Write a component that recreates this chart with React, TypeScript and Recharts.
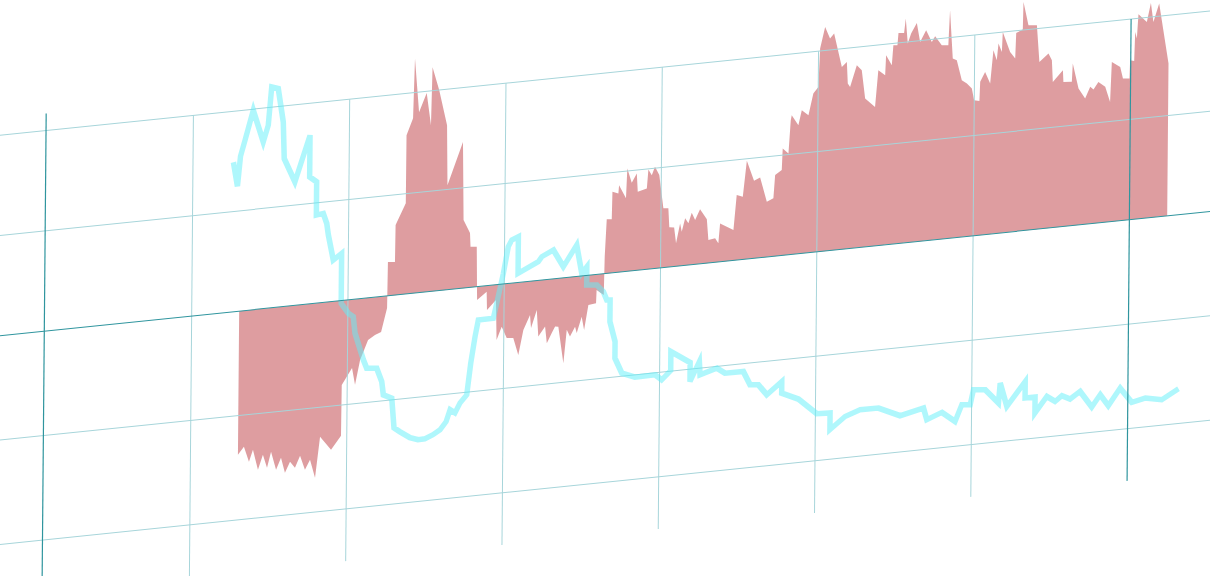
import { ComposedChart, Area, Line, XAxis, YAxis, ReferenceLine } from "recharts"

// red area: x position and value (value 0 = dark axis line)
const areaU = [
  130.4, 134.2, 137.5, 140.0, 143.3, 146.4, 149.1, 151.6, 154.9, 158.0, 160.6, 163.8, 167.0, 170.2, 173.4, 176.6,
  179.9, 182.9, 190.0, 196.3, 196.5, 203.0, 205.0, 208.1, 213.1, 217.5, 221.4, 225.1,
  225.4, 229.9, 230.1, 236.5, 236.6, 240.7, 241.6, 244.5, 249.3, 252.2, 252.9, 257.3, 262.5, 263.1, 272.8, 273.6,
  277.8, 278.2, 282.2,
  282.7, 288.8, 289.1, 294.8, 295.4, 298.6, 301.9, 306.1, 309.4, 312.5, 316.7, 317.4, 321.0, 322.1, 326.4, 327.6,
  330.7, 332.8, 334.9, 338.3, 340.3, 342.4, 345.6, 346.7, 349.8, 351.4, 354.0, 358.9, 359.2, 363.8,
  364.2, 365.3, 368.5, 368.8, 372.6, 373.0, 377.5, 378.2, 381.1, 384.3, 385.0, 390.8, 391.7, 393.9, 395.9, 398.7,
  401.5, 404.7, 405.4, 408.5, 409.8, 412.3, 413.4, 415.5, 417.6, 419.7, 421.9, 425.0, 429.4, 430.5, 434.8, 436.9,
  437.9, 446.5, 448.4, 452.3, 454.7, 459.4, 463.3, 467.7, 471.9, 472.9, 477.1, 477.6, 481.3, 482.6, 483.2, 487.5,
  489.6, 493.9, 496.9, 500.1, 501.0, 504.1, 507.3, 509.9, 515.0, 518.2, 518.9, 520.4, 524.6, 527.8, 530.1, 536.5,
  538.4, 542.8, 543.3, 547.0, 547.9, 550.5, 551.1, 554.7, 555.7, 557.1, 559.2, 562.8, 565.0, 568.8, 572.5, 574.6,
  578.9, 583.1, 584.0, 586.0, 588.6, 590.8, 591.9, 595.2, 598.4, 599.9, 603.3, 603.7, 606.8, 610.1, 612.0, 614.2,
  615.2, 617.4, 617.9, 622.7, 626.0, 626.5, 630.7, 631.0, 634.3, 639.7, 641.5, 647.3, 649.5, 650.2, 656.6, 657.0,
  662.4, 662.9, 666.7, 671.0, 674.2, 676.3, 679.4, 683.8, 687.0, 687.9, 693.3, 695.1, 699.3, 699.6, 702.2, 702.7,
  703.8, 704.7, 710.1, 712.6, 714.3, 717.9, 724.2,
]
const areaV = [
  -140.3, -133.1, -148.2, -136.9, -156.9, -142.8, -155.9, -140.7, -158.8, -147.5, -162.6, -152.3, -158.7, -147.5, -161.6, -152.4,
  -170.5, -131.0, -144.7, -132.1, -82.4, -66.8, -83.7, -59.8, -41.1, -36.9, -34.6, -11.7,
  33.0, 32.3, 68.4, 88.8, 155.2, 171.1, 229.4, 176.3, 194.4, 162.4, 218.9, 195.8, 160.8, 102.2, 142.9, 66.5,
  53.1, 39.7, 39.1,
  -13.0, -5.8, -23.7, -14.9, -54.0, -41.5, -53.0, -53.7, -70.8, -46.9, -32.9, -45.7, -28.7, -54.9, -45.8, -62.2,
  -52.7, -46.8, -47.2, -83.4, -51.2, -58.1, -48.9, -55.2, -39.8, -53.0, -29.0, -28.1, -15.2, -20.8,
  16.5, 52.8, 52.3, 79.2, 77.0, 85.0, 71.4, 100.5, 86.0, 94.7, 76.6, 79.0, 97.4, 91.5, 99.3, 90.8,
  57.9, 57.4, 38.7, 38.2, 22.4, 41.5, 33.2, 45.9, 40.7, 50.7, 43.3, 53.2, 42.8, 22.4, 23.4, 18.2,
  37.5, 29.7, 63.5, 61.2, 96.0, 75.7, 78.4, 53.9, 56.6, 79.2, 83.4, 104.5, 99.0, 131.3, 136.0, 125.6,
  139.9, 134.4, 155.1, 161.0, 198.3, 218.9, 207.1, 211.6, 178.2, 182.6, 161.4, 157.8, 178.3, 172.9, 145.0, 135.8,
  171.3, 165.7, 185.2, 174.8, 194.2, 193.8, 205.7, 205.1, 219.0, 194.4, 203.8, 213.6, 194.7, 205.5, 193.6, 198.8,
  189.3, 188.7, 222.7, 175.3, 173.2, 159.9, 153.2, 149.4, 144.1, 132.4, 131.2, 149.7, 158.9, 147.1, 179.3, 169.2,
  185.3, 176.8, 196.2, 175.9, 169.0, 193.9, 196.5, 223.4, 200.2, 199.3, 163.2, 170.5, 163.7, 142.4, 152.8, 141.3,
  140.5, 158.3, 133.4, 122.9, 133.8, 130.9, 137.8, 132.3, 117.1, 156.0, 150.3, 138.7, 138.0, 155.8, 154.7, 182.9,
  176.3, 199.9, 191.5, 209.7, 190.9, 208.3, 148.8,
]

// cyan line
const lineU = [
  125.9, 128.6, 130.4, 133.2, 138.3, 144.9, 148.0, 150.0, 154.2, 157.6, 158.4, 165.4, 174.8, 174.8, 179.3, 179.3,
  183.7, 186.0, 187.1, 190.4, 195.7, 195.7, 200.3, 203.5, 204.7, 210.2, 212.4, 218.8, 222.1, 223.2, 228.6, 230.2,
  234.1, 240.5, 245.7, 250.1, 255.2, 259.7, 263.5, 266.0, 269.2, 272.4, 276.6, 279.0, 281.6, 283.6, 293.2, 295.3,
  299.4, 302.4, 304.6, 308.8, 308.8, 321.7, 323.9, 331.3, 337.8, 346.2, 349.6, 352.8, 352.8, 359.3, 363.5, 365.8,
  367.9, 367.9, 371.3, 371.3, 375.8, 384.3, 397.1, 401.4, 407.1, 407.1, 419.5, 419.5, 425.4, 425.9, 436.6, 441.9,
  453.6, 458.0, 463.3, 468.8, 478.3, 478.3, 489.0, 500.9, 509.4, 509.4, 519.0, 528.6, 540.3, 554.3, 569.2, 571.4,
  581.0, 589.5, 593.7, 599.1, 601.1, 608.6, 617.2, 618.2, 622.6, 634.2, 634.2, 640.6, 640.6, 648.1, 653.5, 657.7,
  663.1, 669.4, 677.0, 682.3, 687.6, 695.0, 702.6, 711.1, 721.8, 732.4,
]
const lineV = [
  146.1, 122.3, 151.3, 166.4, 194.9, 163.0, 178.8, 215.8, 213.6, 180.5, 144.6, 120.7, 164.8, 124.1, 118.6, 86.1,
  87.1, 77.0, 65.4, 40.5, 46.2, -2.6, -13.0, -16.9, -33.2, -60.1, -68.6, -69.6, -83.2, -96.3, -100.4, -129.6,
  -134.1, -140.9, -143.7, -143.4, -140.3, -136.1, -128.9, -117.6, -121.1, -111.8, -104.7, -74.1, -48.6, -32.6, -32.5, -18.2,
  10.5, 35.9, 42.1, 44.7, 9.0, 18.3, 22.8, 28.2, 10.9, 30.7, 2.6, 8.5, -9.3, -10.3, -17.5, -26.0,
  -26.3, -47.5, -67.5, -83.7, -99.0, -104.3, -104.0, -109.6, -101.4, -82.8, -95.5, -114.1, -95.5, -108.5, -103.7, -109.4,
  -109.6, -123.3, -124.1, -134.7, -123.3, -134.6, -142.1, -158.3, -158.9, -175.2, -163.8, -158.7, -158.9, -168.6, -163.4, -175.2,
  -169.5, -179.7, -164.0, -164.9, -150.6, -151.7, -166.0, -146.7, -170.2, -147.6, -163.8, -163.9, -179.5, -164.5, -170.2, -165.3,
  -169.3, -162.9, -179.3, -168.1, -179.7, -163.6, -178.8, -175.9, -179.2, -170.1,
]

// horizontal grid rows as they sit in the picture, vertical grid columns
const yGrid = [196, 98, -102, -204]
const gridU = [100, 200, 300, 400, 500, 600]
const markU = [5.7, 700]
const markTop = [212.6, 196]
const gridBottom = -255

const areaData = areaU.map((u, i) => ({ u, v: areaV[i] }))
const lineData = lineU.map((u, i) => ({ u, v: lineV[i] }))

const light = "#a7d5da"
const dark = "#2f959e"

export default function App() {
  return (
    <div style={{ position: "absolute", left: 0, top: 0, width: 1210, height: 576, overflow: "hidden", background: "#fff" }}>
      <div style={{ transformOrigin: "0 0", transform: "matrix(1, -0.1027, -0.0087, 1, -196.82, 100.14)" }}>
        <ComposedChart width={1430} height={522.24} margin={{ top: 0, right: 0, bottom: 0, left: 0 }}>
          <XAxis type="number" dataKey="u" domain={[-150, 765]} hide allowDataOverflow />
          <YAxis type="number" dataKey="v" domain={[-260, 250]} hide allowDataOverflow />
          {yGrid.map((v) => (
            <ReferenceLine key={"h" + v} y={v} stroke={light} strokeWidth={1} />
          ))}
          {gridU.map((u) => (
            <ReferenceLine key={u} segment={[{ x: u, y: gridBottom }, { x: u, y: 196 }]} stroke={light} strokeWidth={1} />
          ))}
          <Area
            data={areaData}
            dataKey="v"
            type="linear"
            stroke="none"
            fill="#bd3b42"
            fillOpacity={0.5}
            isAnimationActive={false}
          />
          <Line
            data={lineData}
            dataKey="v"
            type="linear"
            stroke="#5ff0fa"
            strokeOpacity={0.5}
            strokeWidth={5.5}
            dot={false}
            isAnimationActive={false}
          />
          <ReferenceLine y={0} stroke={dark} strokeWidth={1} />
          {markU.map((u, i) => (
            <ReferenceLine
              key={u}
              segment={[{ x: u, y: i === 0 ? -260 : gridBottom }, { x: u, y: markTop[i] }]}
              stroke={dark}
              strokeWidth={1.2}
            />
          ))}
        </ComposedChart>
      </div>
    </div>
  )
}
